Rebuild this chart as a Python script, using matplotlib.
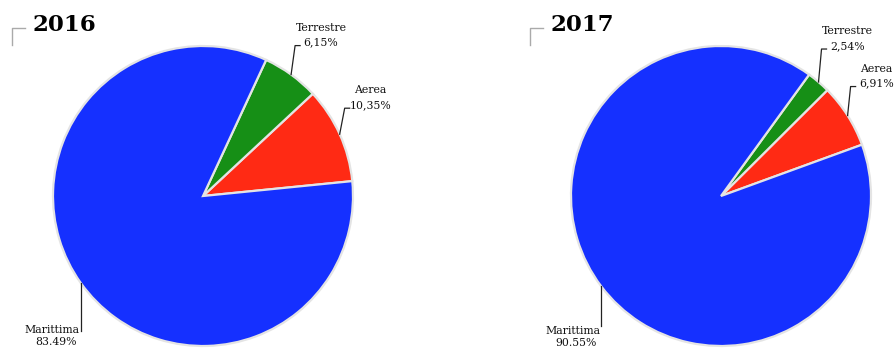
import matplotlib.pyplot as plt
import numpy as np

# quote per modalità di trasporto (%)
modalita = ["Aerea", "Terrestre", "Marittima"]
quote_2016 = [10.35, 6.15, 83.49]
quote_2017 = [6.91, 2.54, 90.55]
etichette_2016 = ["10,35%", "6,15%", "83.49%"]
etichette_2017 = ["6,91%", "2,54%", "90.55%"]
anni = ["2016", "2017"]

colori = ["#ff2a14", "#168f16", "#1530ff"]

W, H = 894, 349
fig = plt.figure(figsize=(W / 100, H / 100), dpi=100)
ax = fig.add_axes([0, 0, 1, 1])

serif = ["DejaVu Serif"]
fs = 7.8


def disegna(cx, cy, r, valori, testi, start, titolo, guide):
    wedges, _ = ax.pie(valori, colors=colori, startangle=start, center=(cx, cy),
                       radius=r, wedgeprops=dict(edgecolor="#e4e4e4", linewidth=1.6))
    # titolo con angolo grigio
    ax.plot([cx - 191, cx - 191, cx - 178], [H - 45, H - 28, H - 28], color="#aaaaaa", lw=1)
    ax.text(cx - 170, H - 25, titolo, fontsize=16.5, fontweight="bold", family=serif,
            ha="left", va="center")
    for w, nome, testo, (ex, ey, lato) in zip(wedges, modalita, testi, guide):
        a = np.deg2rad((w.theta1 + w.theta2) / 2)
        x0, y0 = cx + r * np.cos(a), cy + r * np.sin(a)
        x1, y1 = x0 + ex, y0 + ey
        if lato == "r":
            ax.plot([x0, x1, x1 + 5], [y0, y1, y1], color="#222222", lw=0.9)
            ax.text(x1 + 26, y1 + 3, testo, fontsize=fs, family=serif,
                    ha="center", va="center", color="#111111")
            ax.text(x1 + 26, y1 + 18, nome, fontsize=fs, family=serif,
                    ha="center", va="center", color="#111111")
        else:
            ax.plot([x0, x1], [y0, y1], color="#222222", lw=0.9)
            ax.text(x1 - 1, y1 + lato, nome, fontsize=fs, family=serif,
                    ha="right", va="center", color="#111111")
            ax.text(x1 - 25, y1 + lato - 12, testo, fontsize=fs, family=serif,
                    ha="center", va="center", color="#111111")


# linee guida: (dx, dy, lato o scarto del testo)
guide_2016 = [(5, 26, "r"), (4, 29, "r"), (0, -48, 1)]
guide_2017 = [(3, 29, "r"), (3, 33, "r"), (0, -40, -5)]

disegna(203, H - 196, 150, quote_2016, etichette_2016, 5.7, anni[0], guide_2016)
disegna(721, H - 196, 150, quote_2017, etichette_2017, 20, anni[1], guide_2017)

ax.set_xlim(0, W)
ax.set_ylim(0, H)
ax.set_aspect("equal")
ax.axis("off")

fig.savefig("out.png", dpi=100)
